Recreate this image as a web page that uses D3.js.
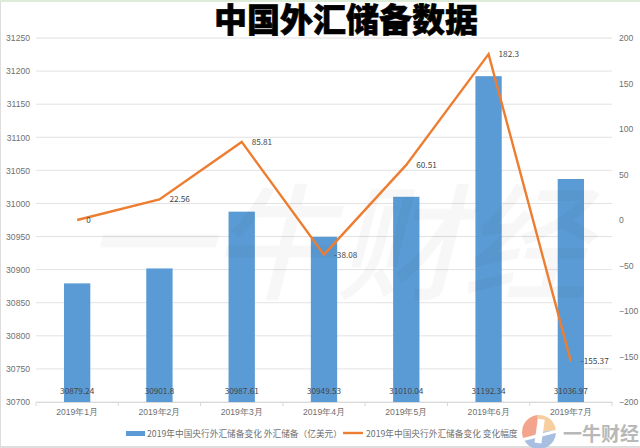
<!DOCTYPE html>
<html lang="zh">

<head>
    <meta charset="UTF-8">
    <title>中国外汇储备数据</title>
    <script src="https://cdnjs.cloudflare.com/ajax/libs/d3/7.8.5/d3.min.js"></script>
    <style>
        html, body {
            margin: 0;
            padding: 0;
            background: #fff;
        }

        svg {
            display: block;
            font-family: "Noto Sans CJK SC", "Noto Sans", sans-serif;
        }

        .tick-text {
            font-size: 8.6px;
            fill: #707070;
        }
    </style>
</head>

<body>
    <svg id="chart"></svg>

    <script>
        const months = ["2019年1月", "2019年2月", "2019年3月", "2019年4月", "2019年5月", "2019年6月", "2019年7月"];
        const reserves = [30879.24, 30901.8, 30987.61, 30949.53, 31010.04, 31192.34, 31036.97];
        const changes = [0, 22.56, 85.81, -38.08, 60.51, 182.3, -155.37];
        const leftTicks = [30700, 30750, 30800, 30850, 30900, 30950, 31000, 31050, 31100, 31150, 31200, 31250];
        const rightTicks = [-200, -150, -100, -50, 0, 50, 100, 150, 200];
        const titleText = "中国外汇储备数据";
        const legendBar = "2019年中国央行外汇储备变化 外汇储备（亿美元）";
        const legendLine = "2019年中国央行外汇储备变化 变化幅度";
        const watermark = "一牛财经";

        const width = 640;
        const height = 448;
        const plot = { left: 36, right: 612, top: 38, bottom: 402 };

        const svg = d3.select("#chart")
            .attr("width", width)
            .attr("height", height);

        // page edges from the screenshot
        svg.append("rect").attr("width", width).attr("height", 2).attr("fill", "#dcecd8");
        svg.append("rect").attr("x", 0).attr("y", 2).attr("width", 1).attr("height", height).attr("fill", "#ddd");
        svg.append("rect").attr("x", 0).attr("y", 446).attr("width", width).attr("height", 2).attr("fill", "#ddd");

        const x = d3.scaleBand().domain(months).range([plot.left, plot.right]).paddingInner(0.68).paddingOuter(0.34);
        const yLeft = d3.scaleLinear().domain([30700, 31250]).range([plot.bottom, plot.top]);
        const yRight = d3.scaleLinear().domain([-200, 200]).range([plot.bottom, plot.top]);

        // gridlines
        svg.append("g")
            .selectAll("line")
            .data(leftTicks)
            .join("line")
            .attr("x1", plot.left)
            .attr("x2", plot.right)
            .attr("y1", d => yLeft(d))
            .attr("y2", d => yLeft(d))
            .attr("stroke", d => d === 31250 ? "#efefef" : "#e2e2e2")
            .attr("stroke-width", d => d === 31250 ? 2 : 1);

        // bars
        svg.append("g")
            .selectAll("rect")
            .data(reserves)
            .join("rect")
            .attr("x", (d, i) => x(months[i]))
            .attr("y", d => yLeft(d))
            .attr("width", x.bandwidth())
            .attr("height", d => plot.bottom - yLeft(d))
            .attr("fill", "#5b9bd5");

        // watermark over the bars
        svg.append("text")
            .attr("transform", "translate(84,290) skewX(-14)")
            .attr("font-size", 126)
            .attr("font-weight", 500)
            .attr("fill", "#000")
            .attr("fill-opacity", 0.03)
            .text(watermark);

        // x axis
        const xAxis = svg.append("g")
            .attr("transform", `translate(0,${plot.bottom})`)
            .call(d3.axisBottom(x).tickSize(0).tickPadding(7));
        xAxis.select(".domain").attr("stroke", "#d9d9d9");
        xAxis.selectAll("text").attr("class", "tick-text").style("font-family", "inherit");
        xAxis.selectAll(".sep")
            .data(d3.range(months.length + 1))
            .join("line")
            .attr("class", "sep")
            .attr("x1", i => plot.left + i * x.step())
            .attr("x2", i => plot.left + i * x.step())
            .attr("y1", 0)
            .attr("y2", 4)
            .attr("stroke", "#d9d9d9");

        // left and right axes
        const axisL = svg.append("g")
            .attr("transform", `translate(${plot.left},0)`)
            .call(d3.axisLeft(yLeft).tickValues(leftTicks).tickSize(0).tickPadding(6).tickFormat(d3.format("d")));
        axisL.select(".domain").remove();
        axisL.selectAll("text").attr("class", "tick-text").style("font-family", "inherit");

        const axisR = svg.append("g")
            .attr("transform", `translate(${plot.right},0)`)
            .call(d3.axisRight(yRight).tickValues(rightTicks).tickSize(0).tickPadding(7).tickFormat(d3.format("d")));
        axisR.select(".domain").remove();
        axisR.selectAll("text").attr("class", "tick-text").style("font-family", "inherit");

        // line
        const line = d3.line()
            .x((d, i) => x(months[i]) + x.bandwidth() / 2)
            .y(d => yRight(d));

        svg.append("path")
            .datum(changes)
            .attr("d", line)
            .attr("fill", "none")
            .attr("stroke", "#ed7d31")
            .attr("stroke-width", 2.4);

        // labels
        svg.append("g")
            .selectAll("text")
            .data(reserves)
            .join("text")
            .attr("x", (d, i) => x(months[i]) + x.bandwidth() / 2)
            .attr("y", plot.bottom - 8)
            .attr("text-anchor", "middle")
            .attr("font-size", 8.2)
            .attr("fill", "#444")
            .text(d => d);

        svg.append("g")
            .selectAll("text")
            .data(changes)
            .join("text")
            .attr("x", (d, i) => x(months[i]) + x.bandwidth() / 2 + (i === 0 ? 9 : 10))
            .attr("y", d => yRight(d) + 3)
            .attr("text-anchor", "start")
            .attr("font-size", 8.2)
            .attr("fill", "#444")
            .text(d => d);

        // title
        svg.append("text")
            .attr("x", 346)
            .attr("y", 32)
            .attr("text-anchor", "middle")
            .attr("font-size", 33)
            .attr("font-weight", 900)
            .attr("fill", "#000")
            .attr("stroke", "#000")
            .attr("stroke-width", 0.6)
            .text(titleText);

        // legend
        svg.append("rect")
            .attr("x", 126).attr("y", 431).attr("width", 19).attr("height", 5)
            .attr("fill", "#5b9bd5");
        svg.append("text")
            .attr("x", 147).attr("y", 436.5)
            .attr("font-size", 8.7).attr("fill", "#707070")
            .text(legendBar);
        svg.append("line")
            .attr("x1", 343).attr("x2", 363).attr("y1", 433).attr("y2", 433)
            .attr("stroke", "#ed7d31").attr("stroke-width", 2.4);
        svg.append("text")
            .attr("x", 366).attr("y", 436.5)
            .attr("font-size", 8.7).attr("fill", "#707070")
            .text(legendLine);

        // logo, bottom right
        const logo = svg.append("g").attr("transform", "translate(539,432)");
        const logoColors = ["#f7cf9f", "#a9bfe2", "#f2a58c"];
        const arc = d3.arc().innerRadius(0).outerRadius(17);
        logo.selectAll("path")
            .data(d3.pie().sort(null).startAngle(-0.1)([1.1, 1.9, 1.4]))
            .join("path")
            .attr("d", arc)
            .attr("fill", (d, i) => logoColors[i]);
        logo.append("rect")
            .attr("x", -3).attr("y", -13).attr("width", 7).attr("height", 24)
            .attr("transform", "rotate(8)")
            .attr("fill", "#fff");
        logo.append("rect")
            .attr("x", -17).attr("y", 2).attr("width", 34).attr("height", 3)
            .attr("transform", "rotate(-14)")
            .attr("fill", "#fff");
        svg.append("text")
            .attr("x", 563).attr("y", 441)
            .attr("font-size", 19).attr("font-weight", 700)
            .attr("fill", "#b8b8b8")
            .text(watermark);
    </script>
</body>

</html>
